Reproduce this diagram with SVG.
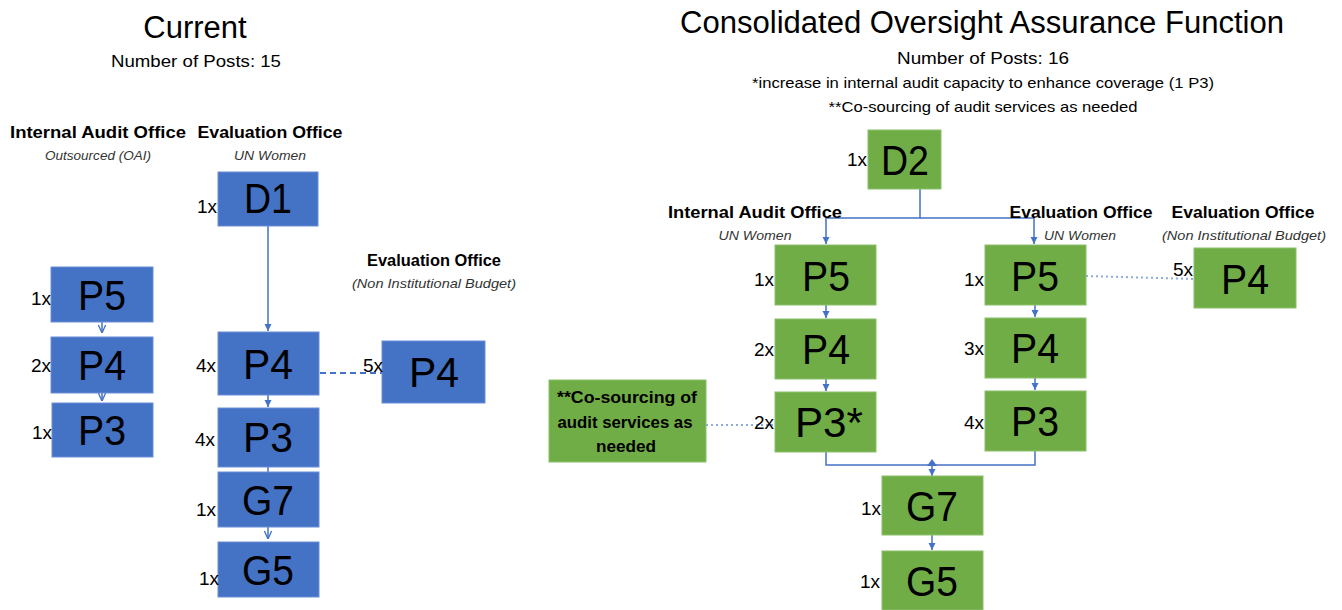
<svg xmlns="http://www.w3.org/2000/svg" width="1342" height="610" viewBox="0 0 1342 610">
  <defs>
    <style>
      text { font-family: "Liberation Sans", Arial, sans-serif; fill: #000; }
      .title { font-size: 31px; text-anchor: middle; }
      .sub { font-size: 17px; text-anchor: middle; }
      .note { font-size: 15px; text-anchor: middle; }
      .head { font-size: 17px; font-weight: bold; text-anchor: middle; }
      .unit { font-size: 13px; font-style: italic; text-anchor: middle; fill: #333; }
      .count { font-size: 19px; text-anchor: end; }
      .grade { font-size: 43px; text-anchor: middle; }
      .blue { fill: #4472C4; stroke: #6A8FD8; stroke-width: 1; }
      .green { fill: #70AD47; stroke: #8CC06A; stroke-width: 1; }
      .conn { fill: none; stroke: #4472C4; stroke-width: 1.5; }
      .dash { fill: none; stroke: #4472C4; stroke-width: 2; stroke-dasharray: 6 4; }
      .dot { fill: none; stroke: #8FAADC; stroke-width: 2; stroke-dasharray: 2 3; }
      .cos { font-size: 16px; font-weight: bold; text-anchor: middle; }
    </style>
    <marker id="arrow" viewBox="0 0 10 10" refX="10" refY="5" markerWidth="5" markerHeight="5" orient="auto">
      <path d="M0,0 L10,5 L0,10 Z" fill="#4472C4"/>
    </marker>
    <marker id="chevron" viewBox="0 0 10 10" refX="10" refY="5" markerWidth="6" markerHeight="6" orient="auto">
      <path d="M1,1 L10,5 L1,9" fill="none" stroke="#4472C4" stroke-width="1.5"/>
    </marker>
  </defs>

  <!-- Current structure -->
  <g id="current-header">
    <text class="title" x="195" y="38">Current</text>
    <text class="sub" x="196" y="67" textLength="170" lengthAdjust="spacingAndGlyphs">Number of Posts: 15</text>
    <text class="head" x="98" y="138" textLength="176" lengthAdjust="spacingAndGlyphs">Internal Audit Office</text>
    <text class="unit" x="98" y="160" textLength="106" lengthAdjust="spacingAndGlyphs">Outsourced (OAI)</text>
    <text class="head" x="270" y="138" textLength="145" lengthAdjust="spacingAndGlyphs">Evaluation Office</text>
    <text class="unit" x="270" y="160" textLength="72" lengthAdjust="spacingAndGlyphs">UN Women</text>
    <text class="head" x="434" y="266" textLength="134" lengthAdjust="spacingAndGlyphs">Evaluation Office</text>
    <text class="unit" x="434" y="288" textLength="164" lengthAdjust="spacingAndGlyphs">(Non Institutional Budget)</text>
  </g>

  <g id="connectors">
    <!-- current: internal audit column -->
    <line class="conn" x1="102" y1="322" x2="102" y2="333" marker-end="url(#chevron)"/>
    <line class="conn" x1="102" y1="393" x2="102" y2="401" marker-end="url(#chevron)"/>
    <!-- current: evaluation column -->
    <line class="conn" x1="268" y1="226" x2="268" y2="331" marker-end="url(#arrow)"/>
    <line class="conn" x1="268" y1="395" x2="268" y2="407" marker-end="url(#arrow)"/>
    <line class="conn" x1="268" y1="467" x2="268" y2="472"/>
    <line class="conn" x1="268" y1="527" x2="268" y2="539" marker-end="url(#chevron)"/>
    <line class="dash" x1="320" y1="373" x2="383" y2="373"/>
    <!-- consolidated: D2 split -->
    <polyline class="conn" points="920,189 920,218 826,218 826,244" marker-end="url(#arrow)"/>
    <polyline class="conn" points="920,218 1034,218 1034,244" marker-end="url(#arrow)"/>
    <line class="conn" x1="826" y1="305" x2="826" y2="318" marker-end="url(#arrow)"/>
    <line class="conn" x1="826" y1="379" x2="826" y2="391" marker-end="url(#arrow)"/>
    <line class="conn" x1="1035" y1="305" x2="1035" y2="317" marker-end="url(#arrow)"/>
    <line class="conn" x1="1035" y1="378" x2="1035" y2="390" marker-end="url(#arrow)"/>
    <!-- consolidated: merge into G7 -->
    <polyline class="conn" points="826,452 826,465 1035,465 1035,451"/>
    <line class="conn" x1="932" y1="465" x2="932" y2="476" marker-end="url(#arrow)"/>
    <path d="M927,466 L932,459 L937,466 Z" fill="#4472C4"/>
    <line class="conn" x1="932" y1="535" x2="932" y2="550" marker-end="url(#arrow)"/>
    <!-- consolidated: dotted links -->
    <line class="dot" x1="1086" y1="276" x2="1195" y2="279"/>
    <line class="dot" x1="706" y1="425" x2="775" y2="425"/>
  </g>

  <g id="cur-ia-p5">
    <rect class="blue" x="51" y="267" width="102" height="55"/>
    <text class="count" x="51" y="305">1x</text>
    <text class="grade" x="102" y="310" textLength="48" lengthAdjust="spacingAndGlyphs">P5</text>
  </g>
  <g id="cur-ia-p4">
    <rect class="blue" x="51" y="337" width="102" height="56"/>
    <text class="count" x="51" y="372">2x</text>
    <text class="grade" x="102" y="380" textLength="48" lengthAdjust="spacingAndGlyphs">P4</text>
  </g>
  <g id="cur-ia-p3">
    <rect class="blue" x="52" y="403" width="101" height="54"/>
    <text class="count" x="52" y="439">1x</text>
    <text class="grade" x="102" y="445" textLength="48" lengthAdjust="spacingAndGlyphs">P3</text>
  </g>

  <g id="cur-ev-d1">
    <rect class="blue" x="218" y="172" width="100" height="54"/>
    <text class="count" x="217" y="213">1x</text>
    <text class="grade" x="268" y="213" textLength="48" lengthAdjust="spacingAndGlyphs">D1</text>
  </g>
  <g id="cur-ev-p4">
    <rect class="blue" x="218" y="332" width="101" height="63"/>
    <text class="count" x="216" y="372">4x</text>
    <text class="grade" x="268" y="379" textLength="50" lengthAdjust="spacingAndGlyphs">P4</text>
  </g>
  <g id="cur-ev-p3">
    <rect class="blue" x="218" y="408" width="101" height="59"/>
    <text class="count" x="215" y="446">4x</text>
    <text class="grade" x="268" y="452" textLength="50" lengthAdjust="spacingAndGlyphs">P3</text>
  </g>
  <g id="cur-ev-g7">
    <rect class="blue" x="218" y="472" width="101" height="55"/>
    <text class="count" x="216" y="516">1x</text>
    <text class="grade" x="268" y="515" textLength="52" lengthAdjust="spacingAndGlyphs">G7</text>
  </g>
  <g id="cur-ev-g5">
    <rect class="blue" x="218" y="542" width="101" height="55"/>
    <text class="count" x="219" y="585">1x</text>
    <text class="grade" x="268" y="585" textLength="52" lengthAdjust="spacingAndGlyphs">G5</text>
  </g>
  <g id="cur-nib-p4">
    <rect class="blue" x="382" y="341" width="103" height="62"/>
    <text class="count" x="383" y="372">5x</text>
    <text class="grade" x="434" y="387" textLength="50" lengthAdjust="spacingAndGlyphs">P4</text>
  </g>

  <!-- Consolidated structure -->
  <g id="new-header">
    <text class="title" x="982" y="33" textLength="604" lengthAdjust="spacingAndGlyphs">Consolidated Oversight Assurance Function</text>
    <text class="sub" x="983" y="64" textLength="172" lengthAdjust="spacingAndGlyphs">Number of Posts: 16</text>
    <text class="note" x="983" y="88" textLength="462" lengthAdjust="spacingAndGlyphs">*increase in internal audit capacity to enhance coverage (1 P3)</text>
    <text class="note" x="983" y="112" textLength="309" lengthAdjust="spacingAndGlyphs">**Co-sourcing of audit services as needed</text>
    <text class="head" x="755" y="218" textLength="174" lengthAdjust="spacingAndGlyphs">Internal Audit Office</text>
    <text class="unit" x="755" y="240" textLength="73" lengthAdjust="spacingAndGlyphs">UN Women</text>
    <text class="head" x="1081" y="218" textLength="143" lengthAdjust="spacingAndGlyphs">Evaluation Office</text>
    <text class="unit" x="1080" y="240" textLength="72" lengthAdjust="spacingAndGlyphs">UN Women</text>
    <text class="head" x="1243" y="218" textLength="143" lengthAdjust="spacingAndGlyphs">Evaluation Office</text>
    <text class="unit" x="1244" y="240" textLength="164" lengthAdjust="spacingAndGlyphs">(Non Institutional Budget)</text>
  </g>

  <g id="new-d2">
    <rect class="green" x="868" y="130" width="73" height="59"/>
    <text class="count" x="867" y="166">1x</text>
    <text class="grade" x="905" y="175" textLength="48" lengthAdjust="spacingAndGlyphs">D2</text>
  </g>
  <g id="new-ia-p5">
    <rect class="green" x="775" y="245" width="101" height="60"/>
    <text class="count" x="774" y="286">1x</text>
    <text class="grade" x="826" y="291" textLength="48" lengthAdjust="spacingAndGlyphs">P5</text>
  </g>
  <g id="new-ia-p4">
    <rect class="green" x="775" y="319" width="101" height="60"/>
    <text class="count" x="774" y="356">2x</text>
    <text class="grade" x="826" y="364" textLength="48" lengthAdjust="spacingAndGlyphs">P4</text>
  </g>
  <g id="new-ia-p3">
    <rect class="green" x="775" y="392" width="101" height="60"/>
    <text class="count" x="774" y="429">2x</text>
    <text class="grade" x="829" y="437" textLength="68" lengthAdjust="spacingAndGlyphs">P3*</text>
  </g>
  <g id="new-ev-p5">
    <rect class="green" x="985" y="245" width="101" height="60"/>
    <text class="count" x="984" y="286">1x</text>
    <text class="grade" x="1035" y="291" textLength="48" lengthAdjust="spacingAndGlyphs">P5</text>
  </g>
  <g id="new-ev-p4">
    <rect class="green" x="985" y="318" width="101" height="60"/>
    <text class="count" x="984" y="355">3x</text>
    <text class="grade" x="1035" y="363" textLength="48" lengthAdjust="spacingAndGlyphs">P4</text>
  </g>
  <g id="new-ev-p3">
    <rect class="green" x="985" y="391" width="101" height="60"/>
    <text class="count" x="984" y="429">4x</text>
    <text class="grade" x="1035" y="436" textLength="48" lengthAdjust="spacingAndGlyphs">P3</text>
  </g>
  <g id="new-nib-p4">
    <rect class="green" x="1194" y="248" width="102" height="60"/>
    <text class="count" x="1193" y="276">5x</text>
    <text class="grade" x="1245" y="294" textLength="48" lengthAdjust="spacingAndGlyphs">P4</text>
  </g>
  <g id="new-cosourcing">
    <rect class="green" x="549" y="380" width="157" height="82"/>
    <text class="cos" x="627" y="403" textLength="140" lengthAdjust="spacingAndGlyphs">**Co-sourcing of</text>
    <text class="cos" x="625" y="428" textLength="135" lengthAdjust="spacingAndGlyphs">audit services as</text>
    <text class="cos" x="626" y="452" textLength="60" lengthAdjust="spacingAndGlyphs">needed</text>
  </g>
  <g id="new-g7">
    <rect class="green" x="882" y="476" width="101" height="59"/>
    <text class="count" x="881" y="515">1x</text>
    <text class="grade" x="932" y="521" textLength="52" lengthAdjust="spacingAndGlyphs">G7</text>
  </g>
  <g id="new-g5">
    <rect class="green" x="882" y="551" width="101" height="59"/>
    <text class="count" x="880" y="588">1x</text>
    <text class="grade" x="932" y="596" textLength="52" lengthAdjust="spacingAndGlyphs">G5</text>
  </g>
</svg>
